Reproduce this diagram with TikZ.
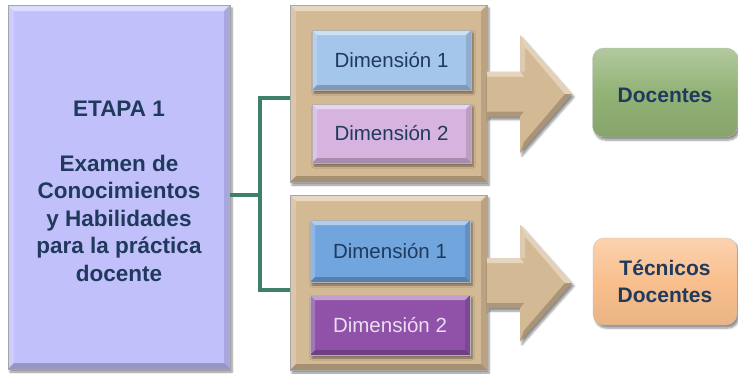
\documentclass[tikz,border=0pt]{standalone}
\usepackage{fontspec}
\setmainfont{Liberation Sans}
\usetikzlibrary{shadows.blur}
\definecolor{etapaC}{HTML}{C1C0FB}
\definecolor{tanC}{HTML}{D4B995}
\definecolor{dimA}{HTML}{A4C6EA}
\definecolor{dimB}{HTML}{D7B4E0}
\definecolor{dimC}{HTML}{71A5DE}
\definecolor{dimD}{HTML}{8F52A8}
\definecolor{dimDtext}{HTML}{EBDDF2}
\definecolor{greenC}{HTML}{92B276}
\definecolor{orangeC}{HTML}{F9BF8D}
\definecolor{txtC}{HTML}{203A5C}
\definecolor{connC}{HTML}{3F806C}
\tikzset{
  bev/.style={path picture={
    \fill[white,opacity=0.45] (path picture bounding box.north west) -- (path picture bounding box.north east)
       -- ([shift={(-#1,-#1)}]path picture bounding box.north east) -- ([shift={(#1,-#1)}]path picture bounding box.north west) -- cycle;
    \fill[white,opacity=0.2] (path picture bounding box.north west) -- ([shift={(#1,-#1)}]path picture bounding box.north west)
       -- ([shift={(#1,#1)}]path picture bounding box.south west) -- (path picture bounding box.south west) -- cycle;
    \fill[black,opacity=0.22] (path picture bounding box.south west) -- ([shift={(#1,#1)}]path picture bounding box.south west)
       -- ([shift={(-#1,#1)}]path picture bounding box.south east) -- (path picture bounding box.south east) -- cycle;
    \fill[black,opacity=0.12] (path picture bounding box.north east) -- ([shift={(-#1,-#1)}]path picture bounding box.north east)
       -- ([shift={(-#1,#1)}]path picture bounding box.south east) -- (path picture bounding box.south east) -- cycle;
  }},
  shad/.style={blur shadow={shadow xshift=2pt, shadow yshift=-3pt, shadow blur steps=6, shadow opacity=45}},
  bigbox/.style={shad, bev=6pt, draw=black!35, line width=0.4pt, inner sep=0pt},
  dimbox/.style={shad, bev=5pt, draw=black!30, line width=0.4pt, minimum width=159pt, minimum height=60pt,
     font=\fontsize{20.5}{24}\selectfont, text=txtC, inner sep=0pt},
  endbox/.style={shad, rounded corners=11pt, draw=black!25, line width=0.3pt, align=center,
     font=\fontsize{21}{27}\selectfont\bfseries, text=txtC, inner sep=0pt},
  conn/.style={draw=connC, line width=3.5pt},
}
\begin{document}
\begin{tikzpicture}[x=1pt,y=-1pt]
\useasboundingbox (0,0) rectangle (738,373);
% left box
\node[bigbox, fill=etapaC, minimum width=222pt, minimum height=364pt] (etapa) at (119,187) {};
\node[align=center, font=\fontsize{22.5}{27.5}\selectfont\bfseries, text=txtC] (etapatxt) at (119,191)
  {ETAPA 1\\[27.5pt]Examen de\\Conocimientos\\y Habilidades\\para la práctica\\docente};
% group boxes
\node[bigbox, fill=tanC, minimum width=197pt, minimum height=177pt] (grp1) at (388.5,93.5) {};
\node[bigbox, fill=tanC, minimum width=197pt, minimum height=175pt] (grp2) at (388.5,282.5) {};
% arrows
\foreach \n/\yc/\sh/\hh in {ar1/94/22.5/59, ar2/283/25/58.5}{
  \fill[tanC, shad] (487,\yc-\sh) -- (520,\yc-\sh) -- (520,\yc-\hh) -- (572,\yc) -- (520,\yc+\hh) -- (520,\yc+\sh) -- (487,\yc+\sh) -- cycle;
  \fill[white,opacity=0.4] (487,\yc-\sh) -- (520,\yc-\sh) -- (524,\yc-\sh+5) -- (487,\yc-\sh+5) -- cycle;
  \fill[white,opacity=0.35] (520,\yc-\hh) -- (572,\yc) -- (565,\yc) -- (525,\yc-\hh+12) -- cycle;
  \fill[white,opacity=0.25] (520,\yc-\hh) -- (525,\yc-\hh+12) -- (525,\yc-\sh) -- (520,\yc-\sh) -- cycle;
  \fill[black,opacity=0.2] (572,\yc) -- (520,\yc+\hh) -- (524,\yc+\hh-11) -- (565,\yc) -- cycle;
  \fill[black,opacity=0.18] (487,\yc+\sh) -- (520,\yc+\sh) -- (524,\yc+\sh-5) -- (487,\yc+\sh-5) -- cycle;
  \coordinate (\n) at (572,\yc);
}
% dimension boxes
\node[dimbox, fill=dimA] (d11) at (391.5,60) {Dimensión 1};
\node[dimbox, fill=dimB, minimum height=59pt] (d12) at (391.5,133.5) {Dimensión 2};
\node[dimbox, fill=dimC, minimum width=160pt, minimum height=62pt] (d21) at (390,251) {Dimensión 1};
\node[dimbox, fill=dimD, minimum width=160pt, text=dimDtext] (d22) at (390,325) {Dimensión 2};
% end boxes
\node[endbox, top color=greenC!70!white, bottom color=greenC!92!black, middle color=greenC,
  minimum width=145pt, minimum height=89pt] (doc) at (665,92.5) {};
\node[font=\fontsize{21}{27}\selectfont\bfseries, text=txtC] (doctxt) at (665,95.5) {Docentes};
\node[endbox, top color=orangeC!70!white, bottom color=orangeC!94!black, middle color=orangeC,
  minimum width=144pt, minimum height=87pt] (tec) at (665,281.5) {Técnicos\\Docentes};
% connectors
\coordinate (j) at (260,195);
\draw[conn] (etapa.east |- j) -- (j);
\draw[conn] ([yshift=-4.5pt]grp1.west) -| (j) |- ([yshift=-7.5pt]grp2.west);
\end{tikzpicture}
\end{document}
